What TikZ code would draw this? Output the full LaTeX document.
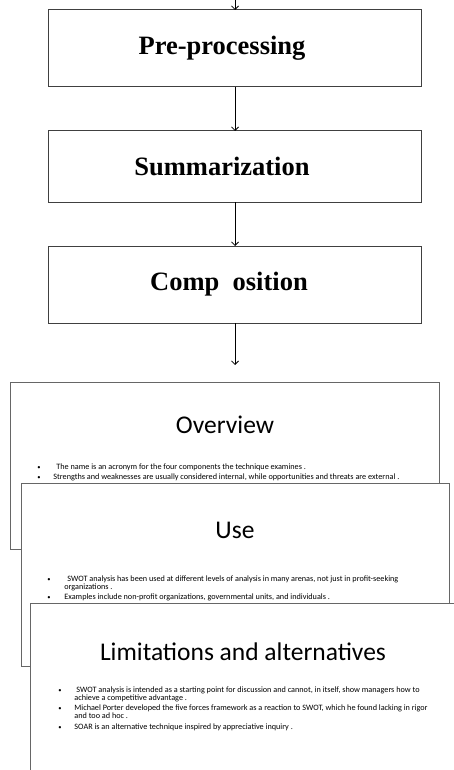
\documentclass[tikz,border=0pt]{standalone}
\usepackage{fontspec}
\newfontfamily\slidefont{Carlito}
\newfontfamily\stagefont{Liberation Serif}
\usetikzlibrary{positioning,arrows.meta}

\begin{document}
\begin{tikzpicture}[x=1pt,y=-1pt,line width=0.8pt,>={Straight Barb[length=3.5pt,width=7pt]},
	stage/.style={draw=black!75, line width=1pt, minimum width=373pt, minimum height=77pt, inner sep=0pt, outer sep=0pt, font=\stagefont\bfseries\fontsize{26.5}{30}\selectfont},
	slide/.style={draw=black!60, fill=white, line width=0.7pt, inner sep=0pt, outer sep=0pt, anchor=north west},
	slidetitle/.style={inner sep=0pt, font=\slidefont\fontsize{25.5}{30}\selectfont},
	point/.style={anchor=base west, inner sep=0pt, font=\slidefont\fontsize{8.2}{9}\selectfont},
	dot/.style={anchor=base, inner sep=0pt, font=\slidefont\fontsize{6.5}{7}\selectfont}]

		\useasboundingbox (0,0) rectangle (454,770);

		%the three stages
		\coordinate (in) at (235,0);
		\node[stage] (pre) at (235,48.5) {Pre-processing\hspace*{26pt}};
		\node[stage, minimum height=71pt] (sum) at (235,166.5) {Summarization\hspace*{26pt}};
		\node[stage] (comp) at (235,284.5) {Comp\hspace{0.5em}osition\hspace*{12pt}};
		\coordinate[below=42pt of comp] (out);

		\draw[->] (in) -- (pre);
		\draw[->] (pre) -- (sum);
		\draw[->] (sum) -- (comp);
		\draw[->] (comp) -- (out);

		%first slide
		\node[slide, minimum width=429pt, minimum height=167pt] (ov) at (10,382) {};
		\node[slidetitle] (ovtitle) at (225,425) {Overview};
		\node[dot] at (39,469) {\textbullet};
		\node[point] (ov1) at (56,469) {The name is an acronym for the four components the technique examines .};
		\node[dot] at (39,479) {\textbullet};
		\node[point] (ov2) at (53,479) {Strengths and weaknesses are usually considered internal, while opportunities and threats are external .};

		%second slide
		\node[slide, minimum width=428pt, minimum height=183pt] (use) at (21,483) {};
		\node[slidetitle] (usetitle) at (235,530) {Use};
		\node[dot] at (49,581) {\textbullet};
		\node[point] (use1) at (67,581) {SWOT analysis has been used at different levels of analysis in many arenas, not just in profit-seeking};
		\node[point] (use1b) at (64,589.5) {organizations .};
		\node[dot] at (49,599.5) {\textbullet};
		\node[point] (use2) at (64,599.5) {Examples include non-profit organizations, governmental units, and individuals .};

		%third slide
		\node[slide, minimum width=432pt, minimum height=185pt] (lim) at (30,603) {};
		\node[slidetitle] (limtitle) at (243,652) {Limitations and alternatives};
		\node[dot] at (60,692) {\textbullet};
		\node[point] (lim1) at (76,692) {SWOT analysis is intended as a starting point for discussion and cannot, in itself, show managers how to};
		\node[point] (lim1b) at (74,700.5) {achieve a competitive advantage .};
		\node[dot] at (60,710) {\textbullet};
		\node[point] (lim2) at (74,710) {Michael Porter developed the five forces framework as a reaction to SWOT, which he found lacking in rigor};
		\node[point] (lim2b) at (74,718.5) {and too ad hoc .};
		\node[dot] at (60,729) {\textbullet};
		\node[point] (lim3) at (74,729) {SOAR is an alternative technique inspired by appreciative inquiry .};

	\end{tikzpicture}
\end{document}
